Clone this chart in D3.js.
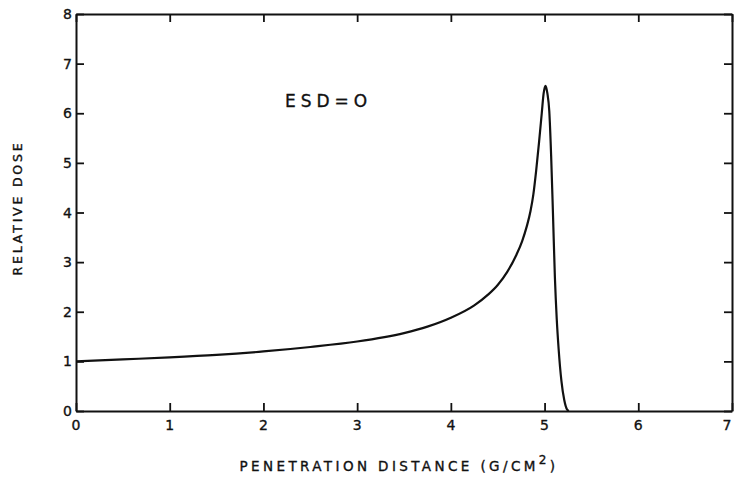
<!DOCTYPE html>
<html>
<head>
<meta charset="utf-8">
<script src="https://cdn.jsdelivr.net/npm/d3@7/dist/d3.min.js"></script>
<style>
  html, body { margin: 0; padding: 0; background: #fff; }
  svg { display: block; }
  text { font-family: "DejaVu Sans", sans-serif; fill: #111; stroke: #111; stroke-width: 0.35px; }
</style>
</head>
<body>
<svg id="chart" width="734" height="478"></svg>
<script>
// Depth-dose curve (Bragg peak), penetration depth in g/cm^2
const depth = [0, 0.5, 1, 1.5, 2, 2.5, 3, 3.5, 3.75, 4, 4.25, 4.4, 4.5, 4.6, 4.7, 4.76, 4.81, 4.85, 4.88, 4.91, 4.94, 4.97, 4.99, 5.01,
               5.03, 5.05, 5.07, 5.09, 5.11, 5.13, 5.15, 5.18, 5.21, 5.24, 5.26];
const dose  = [1.00, 1.04, 1.08, 1.13, 1.20, 1.29, 1.40, 1.57, 1.70, 1.88, 2.13, 2.35, 2.54, 2.80, 3.15, 3.42, 3.72, 4.03, 4.36, 4.84, 5.40, 6.00, 6.40, 6.55,
               6.40, 6.05, 5.15, 3.95, 2.70, 1.85, 1.25, 0.60, 0.22, 0.03, 0.00];
const xTicks = [0, 1, 2, 3, 4, 5, 6, 7];
const yTicks = [0, 1, 2, 3, 4, 5, 6, 7, 8];
const title = "ESD=O";
const xLabel = "PENETRATION DISTANCE (G/CM";
const yLabel = "RELATIVE DOSE";

const svg = d3.select("#chart");
const plotLeft = 76, plotRight = 732, plotTop = 14, plotBottom = 411;

const x = d3.scaleLinear().domain([0, 7]).range([plotLeft, plotRight]);
const y = d3.scaleLinear().domain([0, 8]).range([plotBottom, plotTop]);

const tickLen = 8;

// Frame axes with inward ticks on all four sides
svg.append("g").attr("transform", `translate(0,${plotBottom})`)
  .call(d3.axisTop(x).tickValues(xTicks).tickSize(tickLen).tickSizeOuter(0).tickFormat(""));
svg.append("g").attr("transform", `translate(0,${plotTop})`)
  .call(d3.axisBottom(x).tickValues(xTicks).tickSize(tickLen).tickSizeOuter(0).tickFormat(""));
svg.append("g").attr("transform", `translate(${plotLeft},0)`)
  .call(d3.axisRight(y).tickValues(yTicks).tickSize(tickLen).tickSizeOuter(0).tickFormat(""));
svg.append("g").attr("transform", `translate(${plotRight},0)`)
  .call(d3.axisLeft(y).tickValues(yTicks).tickSize(tickLen).tickSizeOuter(0).tickFormat(""));

svg.selectAll(".domain").attr("stroke", "#111").attr("stroke-width", 2);
svg.selectAll(".tick line").attr("stroke", "#111").attr("stroke-width", 1.8);

// Tick labels (the last x label is kept inside the page edge)
svg.append("g").selectAll("text").data(xTicks).join("text")
  .attr("x", d => Math.min(x(d), 727)).attr("y", plotBottom + 19)
  .attr("text-anchor", "middle").attr("font-size", 14)
  .text(d => d);
svg.append("g").selectAll("text").data(yTicks).join("text")
  .attr("x", plotLeft - 4).attr("y", d => y(d) + 5)
  .attr("text-anchor", "end").attr("font-size", 14)
  .text(d => d);

// Dose curve
const line = d3.line().x((d, i) => x(depth[i])).y(d => y(d)).curve(d3.curveMonotoneX);
svg.append("path").datum(dose)
  .attr("d", line)
  .attr("fill", "none").attr("stroke", "#111").attr("stroke-width", 2.2)
  .attr("stroke-linejoin", "round");

// Annotation
svg.append("text")
  .attr("x", 285).attr("y", 107)
  .attr("font-size", 17).attr("letter-spacing", 5)
  .text(title);

// Axis titles
const xl = svg.append("text")
  .attr("x", 399).attr("y", 471)
  .attr("text-anchor", "middle").attr("font-size", 13.5).attr("letter-spacing", 3.4);
xl.append("tspan").text(xLabel);
xl.append("tspan").attr("dy", -7).attr("font-size", 12).text("2");
xl.append("tspan").attr("dy", 7).text(")");

svg.append("text")
  .attr("transform", "translate(22,208) rotate(-90)")
  .attr("text-anchor", "middle").attr("font-size", 12.5).attr("letter-spacing", 2.8)
  .text(yLabel);
</script>
</body>
</html>
